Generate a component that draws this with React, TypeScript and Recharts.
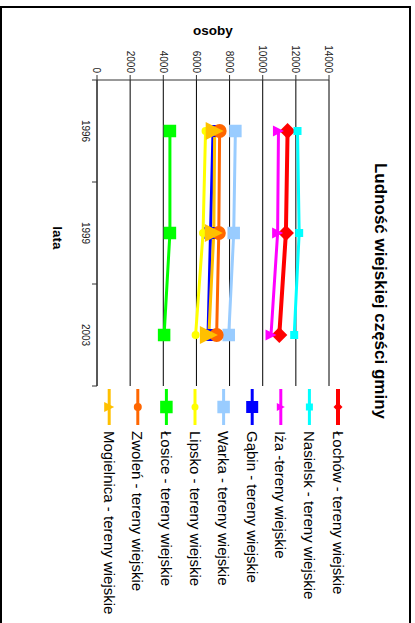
import React from 'react';
import { LineChart, Line, XAxis, YAxis, CartesianGrid } from 'recharts';

// ---- data ----
const years = ['1996', '1999', '2003'];
const valueTicks = [0, 2000, 4000, 6000, 8000, 10000, 12000, 14000];
const categoryBounds = [0, 0.5, 1, 1.5, 2, 2.5, 3];

const seriesNames = [
  'Łochów - tereny wiejskie',
  'Nasielsk - tereny wiejskie',
  'Iża -tereny wiejskie',
  'Gąbin - tereny wiejskie',
  'Warka - tereny wiejskie',
  'Lipsko - tereny wiejskie',
  'Łosice - tereny wiejskie',
  'Zwoleń - tereny wiejskie',
  'Mogielnica - tereny wiejskie',
];

const lochow = [11500, 11400, 11000];
const nasielsk = [12100, 12200, 11900];
const iza = [10950, 10900, 10500];
const gabin = [7000, 6850, 6700];
const warka = [8350, 8250, 7950];
const lipsko = [6550, 6400, 5950];
const losice = [4400, 4400, 4050];
const zwolen = [7400, 7350, 7220];
const mogielnica = [7100, 7050, 6750];

const seriesValues = [lochow, nasielsk, iza, gabin, warka, lipsko, losice, zwolen, mogielnica];

// ---- styles ----
type Shape = 'square' | 'diamond' | 'triangle' | 'circle';
const seriesStyles: { color: string; width: number; shape: Shape; size: number; legendSize: number }[] = [
  { color: '#FF0000', width: 4, shape: 'diamond', size: 16, legendSize: 9 },
  { color: '#00FFFF', width: 3, shape: 'square', size: 8, legendSize: 7 },
  { color: '#FF00FF', width: 3, shape: 'triangle', size: 11, legendSize: 8 },
  { color: '#0000FF', width: 3, shape: 'square', size: 12, legendSize: 12 },
  { color: '#99CCFF', width: 3, shape: 'square', size: 12.5, legendSize: 12.5 },
  { color: '#FFFF00', width: 3, shape: 'circle', size: 8, legendSize: 7 },
  { color: '#00FF00', width: 3, shape: 'square', size: 12.5, legendSize: 12.5 },
  { color: '#FF6600', width: 3, shape: 'circle', size: 14, legendSize: 8 },
  { color: '#FFC000', width: 3, shape: 'triangle', size: 18, legendSize: 10 },
];

const data = years.map((year, i) => {
  const row: Record<string, number | string> = { x: i + 0.5, year };
  seriesValues.forEach((vals, s) => {
    row['s' + s] = vals[i];
  });
  return row;
});

const FONT = '"Liberation Sans", Arial, Helvetica, sans-serif';

function Marker({ shape, cx, cy, size, color }: { shape: Shape; cx: number; cy: number; size: number; color: string }) {
  const h = size / 2;
  if (shape === 'square') return <rect x={cx - h} y={cy - h} width={size} height={size} fill={color} />;
  if (shape === 'diamond')
    return <polygon points={`${cx},${cy - h} ${cx + h},${cy} ${cx},${cy + h} ${cx - h},${cy}`} fill={color} />;
  if (shape === 'triangle')
    return <polygon points={`${cx},${cy - h} ${cx + h},${cy + h} ${cx - h},${cy + h}`} fill={color} />;
  return <circle cx={cx} cy={cy} r={h} fill={color} />;
}

const XTick = (props: any) => {
  const { x, y, payload } = props;
  const v = payload.value as number;
  if (Number.isInteger(v)) {
    return <line x1={x} y1={y} x2={x} y2={y + 5} stroke="#333" strokeWidth={1} />;
  }
  return (
    <text x={x} y={y + 12} textAnchor="middle" dominantBaseline="central" fontSize={10} fill="#222" fontFamily={FONT}>
      {years[Math.floor(v)]}
    </text>
  );
};

export default function App() {
  return (
    <div
      style={{
        position: 'fixed',
        left: 0,
        top: 0,
        width: 415,
        height: 623,
        overflow: 'hidden',
        background: '#fff',
        fontFamily: FONT,
      }}
    >
      <div
        style={{
          position: 'absolute',
          left: 0,
          top: 0,
          width: 623,
          height: 415,
          transformOrigin: '0 0',
          transform: 'translate(415px, 0px) rotate(90deg)',
        }}
      >
        <svg width={623} height={415} style={{ position: 'absolute', left: 0, top: 0 }}>
          <rect x={7} y={5} width={700} height={409} fill="none" stroke="#000" strokeWidth={2} />
          <text x={291} y={40} textAnchor="middle" fontSize={17} fontWeight="bold" fill="#000" fontFamily={FONT}>
            Ludność wiejskiej części gminy
          </text>
          <text
            x={30}
            y={202}
            transform="rotate(-90 30 202)"
            textAnchor="middle"
            dominantBaseline="central"
            fontSize={13.5}
            fontWeight="bold"
            fill="#000"
            fontFamily={FONT}
          >
            osoby
          </text>
          <text x={238} y={358} textAnchor="middle" dominantBaseline="central" fontSize={13.5} fontWeight="bold" fill="#000" fontFamily={FONT}>
            lata
          </text>
          {seriesNames.map((name, i) => {
            const st = seriesStyles[i];
            const y = 77 + i * 28.6;
            return (
              <g key={name}>
                <line x1={389} x2={425} y1={y} y2={y} stroke={st.color} strokeWidth={st.width} />
                <Marker shape={st.shape} cx={407} cy={y} size={st.legendSize} color={st.color} />
                <text x={431} y={y} dominantBaseline="central" fontSize={15} fill="#000" fontFamily={FONT}>
                  {name}
                </text>
              </g>
            );
          })}
        </svg>
        <div style={{ position: 'absolute', left: 0, top: 0 }}>
          <LineChart width={623} height={415} data={data} margin={{ top: 86, right: 237, bottom: 0, left: 0 }}>
            <CartesianGrid vertical={false} stroke="#000" strokeWidth={1} />
            <XAxis
              dataKey="x"
              type="number"
              domain={[0, 3]}
              ticks={categoryBounds}
              interval={0}
              height={97}
              tickLine={false}
              tickSize={0}
              tickMargin={0}
              stroke="#333"
              tick={<XTick />}
            />
            <YAxis
              type="number"
              domain={[0, 14000]}
              ticks={valueTicks}
              interval={0}
              width={80}
              tickSize={5}
              tickMargin={2}
              stroke="#333"
              tick={{ fontSize: 10, fill: '#222' }}
            />
            {seriesNames.map((name, i) => {
              const st = seriesStyles[i];
              return (
                <Line
                  key={name}
                  type="linear"
                  dataKey={'s' + i}
                  name={name}
                  stroke={st.color}
                  strokeWidth={st.width}
                  isAnimationActive={false}
                  activeDot={false}
                  dot={(p: any) => (
                    <g key={`${i}-${p.index}`}>
                      <Marker shape={st.shape} cx={p.cx} cy={p.cy} size={st.size} color={st.color} />
                    </g>
                  )}
                />
              );
            })}
          </LineChart>
        </div>
      </div>
    </div>
  );
}
